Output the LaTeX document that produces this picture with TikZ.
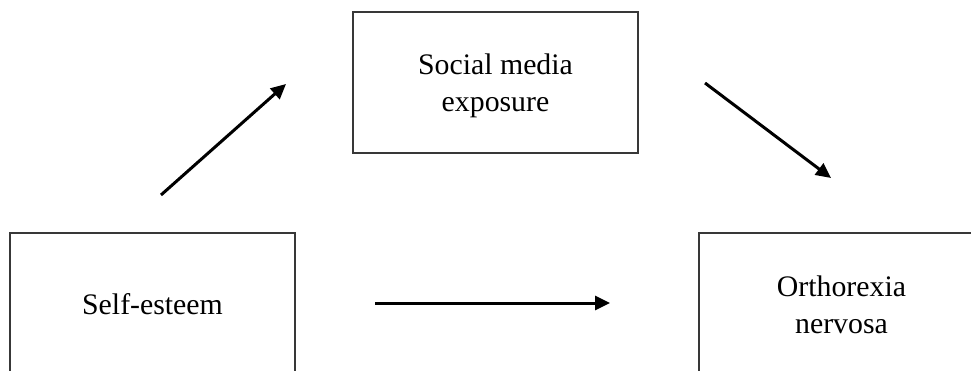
\documentclass[tikz,border=0pt]{standalone}
\usepackage{fontspec}
\setmainfont{Liberation Serif}
\usetikzlibrary{arrows.meta}
\begin{document}
\begin{tikzpicture}[x=1pt,y=-1pt,
  box/.style={draw=black!78,line width=2pt,minimum width=285pt,minimum height=141pt,inner sep=0pt},
  lbl/.style={font=\fontsize{29.8}{37}\selectfont,align=center,anchor=base,inner sep=0pt},
  arr/.style={line width=3pt,-{Triangle[length=15pt,width=14pt]}}]
\useasboundingbox (0,0) rectangle (971,371);
\clip (0,0) rectangle (971,371);
\fill[white] (0,0) rectangle (971,371);
\node[box] (sme) at (495.5,82.5) {};
\node[box] (se) at (152.5,303.5) {};
\node[box] (on) at (841.5,303.5) {};
\node[lbl] (tsme) at (495.5,112) {Social media\\exposure};
\node[lbl] (tse) at (152.5,314) {Self-esteem};
\node[lbl] (ton) at (841.5,333) {Orthorexia\\nervosa};
\coordinate (a1s) at (161,195);
\coordinate (a1e) at (286,84);
\coordinate (a2s) at (705,83);
\coordinate (a2e) at (831,178);
\coordinate (a3s) at (375,303);
\coordinate (a3e) at (610,303);
\draw[arr] (a1s) -- (a1e);
\draw[arr] (a2s) -- (a2e);
\draw[arr] (a3s) -- (a3e);
\end{tikzpicture}
\end{document}
